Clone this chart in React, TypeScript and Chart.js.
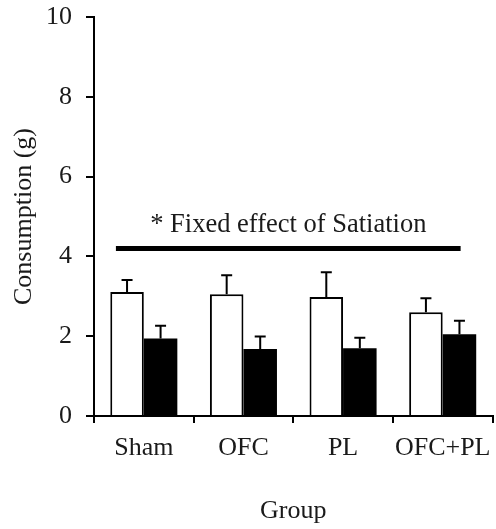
import React, { useEffect, useRef } from "react";
import { Chart, registerables } from "chart.js";

Chart.register(...registerables);

const categories = ["Sham", "OFC", "PL", "OFC+PL"];
const nonSatedValues = [3.11, 3.05, 2.98, 2.6];
const nonSatedErrors = [0.3, 0.48, 0.62, 0.35];
const satedValues = [1.94, 1.68, 1.7, 2.05];
const satedErrors = [0.32, 0.31, 0.26, 0.34];
const yTicks = [0, 2, 4, 6, 8, 10];
const sigLabel = "* Fixed effect of Satiation";
const sigLineValue = 4.2;
const sigTextValue = 4.6;
const sigSpan = [-0.28, 3.18];
const errorSets = [nonSatedErrors, satedErrors];

const FONT = "Liberation Serif";
const TEXT = "#1a1a1a";

const errorBarPlugin = {
  id: "errorBars",
  afterDatasetsDraw(chart: any) {
    const ctx = chart.ctx;
    const y = chart.scales.y;
    chart.data.datasets.forEach((ds: any, i: number) => {
      const meta = chart.getDatasetMeta(i);
      const errs = errorSets[i];
      meta.data.forEach((bar: any, j: number) => {
        const top = y.getPixelForValue(ds.data[j] + errs[j]);
        ctx.save();
        ctx.strokeStyle = "#000";
        ctx.lineWidth = 2;
        ctx.beginPath();
        ctx.moveTo(bar.x, bar.y);
        ctx.lineTo(bar.x, top);
        ctx.moveTo(bar.x - 5.5, top);
        ctx.lineTo(bar.x + 5.5, top);
        ctx.stroke();
        ctx.restore();
      });
    });
  },
};

const sigPlugin = {
  id: "sigAnnotation",
  afterDatasetsDraw(chart: any) {
    const ctx = chart.ctx;
    const x = chart.scales.x;
    const y = chart.scales.y;
    const x0 = x.getPixelForValue(sigSpan[0]);
    const x1 = x.getPixelForValue(sigSpan[1]);
    const yl = y.getPixelForValue(sigLineValue);
    const yt = y.getPixelForValue(sigTextValue);
    ctx.save();
    ctx.strokeStyle = "#000";
    ctx.lineWidth = 5;
    ctx.beginPath();
    ctx.moveTo(x0, yl);
    ctx.lineTo(x1, yl);
    ctx.stroke();
    ctx.fillStyle = TEXT;
    ctx.font = `26.5px "${FONT}"`;
    ctx.textAlign = "center";
    ctx.textBaseline = "alphabetic";
    ctx.fillText(sigLabel, (x0 + x1) / 2, yt);
    ctx.restore();
  },
};

export default function App() {
  const ref = useRef<HTMLCanvasElement>(null);
  useEffect(() => {
    if (!ref.current) return;
    const chart = new Chart(ref.current, {
      type: "bar",
      data: {
        labels: categories,
        datasets: [
          {
            label: "Non-sated",
            data: nonSatedValues,
            backgroundColor: "#ffffff",
            borderColor: "#000000",
            borderWidth: 2,
            barPercentage: 1,
            categoryPercentage: 0.673,
          },
          {
            label: "Sated",
            data: satedValues,
            backgroundColor: "#000000",
            borderColor: "#000000",
            borderWidth: 0,
            barPercentage: 1,
            categoryPercentage: 0.673,
          },
        ],
      },
      options: {
        responsive: false,
        animation: false,
        devicePixelRatio: 1,
        layout: { padding: { top: 17, right: 3.5, left: 0, bottom: 0 } },
        plugins: { legend: { display: false }, tooltip: { enabled: false } },
        scales: {
          x: {
            grid: {
              drawOnChartArea: false,
              color: "#000",
              lineWidth: 2,
              tickLength: 7,
              offset: true,
            },
            border: { color: "#000", width: 2 },
            ticks: {
              font: { family: FONT, size: 26 },
              color: TEXT,
              padding: 10,
              maxRotation: 0,
              minRotation: 0,
              autoSkip: false,
            },
            title: {
              display: true,
              text: "Group",
              font: { family: FONT, size: 26 },
              color: TEXT,
              padding: { top: 0, bottom: 2 },
            },
            afterFit: (s: any) => {
              s.height = 113;
              s.paddingLeft = 0;
              s.paddingRight = 0;
              s.paddingTop = 0;
              s.paddingBottom = 0;
            },
          },
          y: {
            min: 0,
            max: 10,
            afterBuildTicks: (s: any) => {
              s.ticks = yTicks.map((v) => ({ value: v }));
            },
            grid: {
              drawOnChartArea: false,
              color: "#000",
              lineWidth: 2,
              tickLength: 8,
            },
            border: { color: "#000", width: 2 },
            ticks: { font: { family: FONT, size: 26 }, color: TEXT, padding: 14 },
            title: {
              display: true,
              text: "Consumption (g)",
              font: { family: FONT, size: 26 },
              color: TEXT,
              padding: { top: 9, bottom: 0 },
            },
            afterFit: (s: any) => {
              s.width = 94;
              s.paddingLeft = 0;
              s.paddingRight = 0;
              s.paddingTop = 0;
              s.paddingBottom = 0;
            },
          },
        },
      },
      plugins: [errorBarPlugin, sigPlugin],
    });
    return () => chart.destroy();
  }, []);
  return (
    <div style={{ position: "fixed", left: 0, top: 0, width: 496, height: 529, background: "#fff" }}>
      <canvas ref={ref} width={496} height={529} style={{ display: "block" }} />
    </div>
  );
}
